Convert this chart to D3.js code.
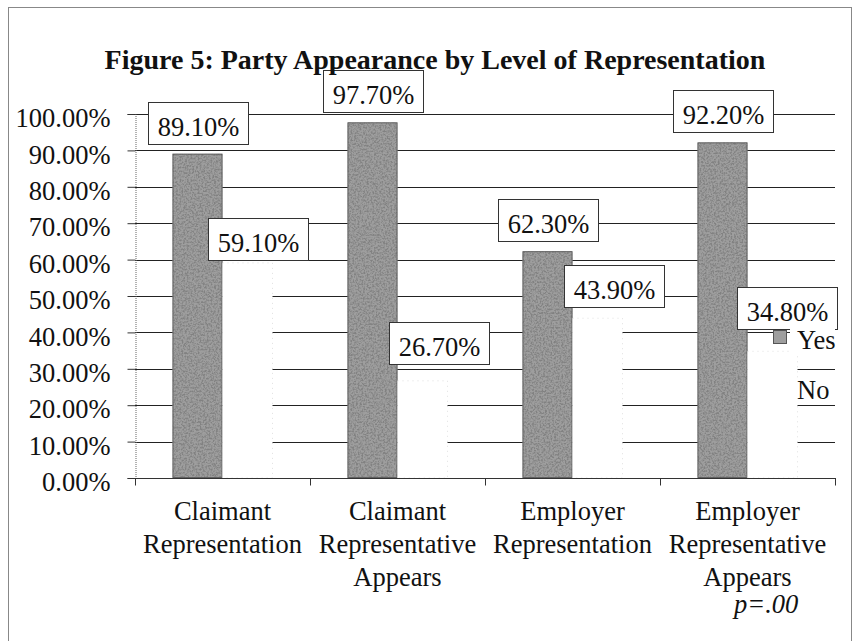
<!DOCTYPE html>
<html>
<head>
<meta charset="utf-8">
<script src="https://cdn.jsdelivr.net/npm/d3@7"></script>
<style>
  html, body { margin: 0; padding: 0; background: #fff; }
  #chart { width: 856px; height: 641px; }
  text { font-family: "Liberation Serif", "Times New Roman", serif; fill: #111; }
</style>
</head>
<body>
<div id="chart"></div>
<script>
// categories, each label split into lines
const categories = [
    ["Claimant", "Representation"],
    ["Claimant", "Representative", "Appears"],
    ["Employer", "Representation"],
    ["Employer", "Representative", "Appears"]
];
const yesValues = [0.891, 0.977, 0.623, 0.922];
const noValues = [0.591, 0.267, 0.439, 0.348];
const yTicks = [0, 0.1, 0.2, 0.3, 0.4, 0.5, 0.6, 0.7, 0.8, 0.9, 1.0];
const seriesNames = ["Yes", "No"];
const title = "Figure 5: Party Appearance by Level of Representation";
const note = "p=.00";

const width = 856;
const height = 641;
const fontSize = 26.5;

const svg = d3.select("#chart")
    .append("svg")
    .attr("width", width)
    .attr("height", height);

// grainy grey like the scanned bars
const defs = svg.append("defs");
const grain = defs.append("filter")
    .attr("id", "grain")
    .attr("x", 0).attr("y", 0)
    .attr("width", "100%").attr("height", "100%");
grain.append("feTurbulence")
    .attr("type", "fractalNoise")
    .attr("baseFrequency", 0.55)
    .attr("numOctaves", 4)
    .attr("seed", 7)
    .attr("result", "noise");
grain.append("feColorMatrix")
    .attr("in", "noise")
    .attr("type", "matrix")
    .attr("values", "0 0 0 0 0.22  0 0 0 0 0.22  0 0 0 0 0.22  0 0 0 3.0 -1.15")
    .attr("result", "dark");
grain.append("feComposite")
    .attr("in", "dark")
    .attr("in2", "SourceGraphic")
    .attr("operator", "atop");

// outer frame of the scanned figure
svg.append("rect")
    .attr("x", 8.5).attr("y", 7.5)
    .attr("width", 843).attr("height", 640)
    .attr("fill", "none")
    .attr("stroke", "#888")
    .attr("stroke-width", 1);

const x = d3.scaleBand()
    .domain(d3.range(categories.length))
    .range([135, 835])
    .padding(0);

const y = d3.scaleLinear()
    .domain([0, 1])
    .range([478, 114]);

const barW = 50;

// gridlines
svg.append("g")
    .selectAll("line")
    .data(yTicks.slice(1))
    .join("line")
    .attr("x1", 135).attr("x2", 835)
    .attr("y1", d => Math.round(y(d)) + 0.5)
    .attr("y2", d => Math.round(y(d)) + 0.5)
    .attr("stroke", "#222")
    .attr("stroke-width", 1.2);

// y axis
const yAxis = svg.append("g")
    .attr("transform", "translate(135.5,0)")
    .call(d3.axisLeft(y).tickValues(yTicks).tickFormat(d3.format(".2%")).tickSize(8).tickPadding(17));
yAxis.select(".domain").attr("stroke", "#666").attr("stroke-dasharray", "1,1");
yAxis.selectAll(".tick line").attr("stroke", "#333");
yAxis.selectAll(".tick text")
    .attr("font-family", "Liberation Serif, serif")
    .attr("font-size", fontSize + "px")
    .attr("fill", "#111")
    .attr("dy", "0.48em");

// bars
svg.append("g")
    .selectAll("rect")
    .data(yesValues)
    .join("rect")
    .attr("x", (d, i) => x(i) + x.bandwidth() / 2 - barW)
    .attr("y", d => y(d))
    .attr("width", barW)
    .attr("height", d => y(0) - y(d))
    .attr("fill", "#9e9e9e")
    .attr("filter", "url(#grain)");

svg.append("g")
    .selectAll("rect")
    .data(yesValues)
    .join("rect")
    .attr("x", (d, i) => x(i) + x.bandwidth() / 2 - barW + 0.5)
    .attr("y", d => y(d) + 0.5)
    .attr("width", barW - 1)
    .attr("height", d => y(0) - y(d) - 1)
    .attr("fill", "none")
    .attr("stroke", "#555")
    .attr("stroke-width", 0.8);

svg.append("g")
    .selectAll("rect")
    .data(noValues)
    .join("rect")
    .attr("x", (d, i) => x(i) + x.bandwidth() / 2)
    .attr("y", d => y(d))
    .attr("width", barW)
    .attr("height", d => y(0) - y(d))
    .attr("fill", "#fff")
    .attr("stroke", "#ccc")
    .attr("stroke-width", 0.6)
    .attr("stroke-dasharray", "1,4");

// x axis
const xAxis = svg.append("g").attr("transform", "translate(0,478.5)");
xAxis.append("line")
    .attr("x1", 135).attr("x2", 836)
    .attr("stroke", "#333");
xAxis.selectAll(".tk")
    .data(d3.range(categories.length + 1))
    .join("line")
    .attr("class", "tk")
    .attr("x1", i => i < categories.length ? x(i) + 0.5 : 835.5)
    .attr("x2", i => i < categories.length ? x(i) + 0.5 : 835.5)
    .attr("y1", 0).attr("y2", 7)
    .attr("stroke", "#333");

const catLabels = svg.append("g")
    .selectAll("text")
    .data(categories)
    .join("text")
    .attr("text-anchor", "middle")
    .attr("font-size", fontSize + "px");
catLabels.each(function(lines, i) {
    d3.select(this).selectAll("tspan")
        .data(lines)
        .join("tspan")
        .attr("x", x(i) + x.bandwidth() / 2)
        .attr("y", (l, j) => 520 + j * 33)
        .text(l => l);
});

svg.append("text")
    .attr("x", 734)
    .attr("y", 613)
    .attr("font-style", "italic")
    .attr("font-size", fontSize + "px")
    .text(note);

// data labels in boxes; the "No" labels were nudged by hand in the original
const fmt = d3.format(".2%");
const boxW = 100, boxH = 42;
const noNudgeX = [10, 16, 16, 14];
const noNudgeUp = [3, 17, 11, 22];
function drawLabels(values, dx, gap) {
    const g = svg.append("g")
        .selectAll("g")
        .data(values)
        .join("g")
        .attr("transform", (d, i) => {
            const cx = x(i) + x.bandwidth() / 2 + dx(i);
            const bottom = y(d) - gap(i);
            return `translate(${Math.round(cx - boxW / 2) + 0.5}, ${Math.round(bottom - boxH) + 0.5})`;
        });
    g.append("rect")
        .attr("width", boxW)
        .attr("height", boxH)
        .attr("fill", "#fff")
        .attr("stroke", "#333")
        .attr("stroke-width", 1);
    g.append("text")
        .attr("x", boxW / 2)
        .attr("y", boxH - 9)
        .attr("text-anchor", "middle")
        .attr("font-size", fontSize + "px")
        .text(d => fmt(d));
}
drawLabels(yesValues, () => -barW / 2, () => 10);
drawLabels(noValues, i => barW / 2 + noNudgeX[i], i => noNudgeUp[i]);

// legend
const legend = svg.append("g");
const legendY = [349, 399];
legend.selectAll("rect.bg")
    .data(seriesNames)
    .join("rect")
    .attr("class", "bg")
    .attr("x", 790)
    .attr("y", (d, i) => legendY[i] - 20)
    .attr("width", 45)
    .attr("height", 24)
    .attr("fill", "#fff");
legend.selectAll("rect.key")
    .data(seriesNames)
    .join("rect")
    .attr("class", "key")
    .attr("x", 773.5)
    .attr("y", (d, i) => legendY[i] - 18.5)
    .attr("width", 13)
    .attr("height", 13)
    .attr("fill", (d, i) => i === 0 ? "#9e9e9e" : "#fff")
    .attr("stroke", (d, i) => i === 0 ? "#555" : "none");
legend.selectAll("text")
    .data(seriesNames)
    .join("text")
    .attr("x", 797)
    .attr("y", (d, i) => legendY[i])
    .attr("font-size", fontSize + "px")
    .text(d => d);

// title on top so its descenders stay visible over the label box
svg.append("text")
    .attr("x", 435)
    .attr("y", 69)
    .attr("text-anchor", "middle")
    .attr("font-weight", "bold")
    .attr("font-size", "28px")
    .text(title);
</script>
</body>
</html>
